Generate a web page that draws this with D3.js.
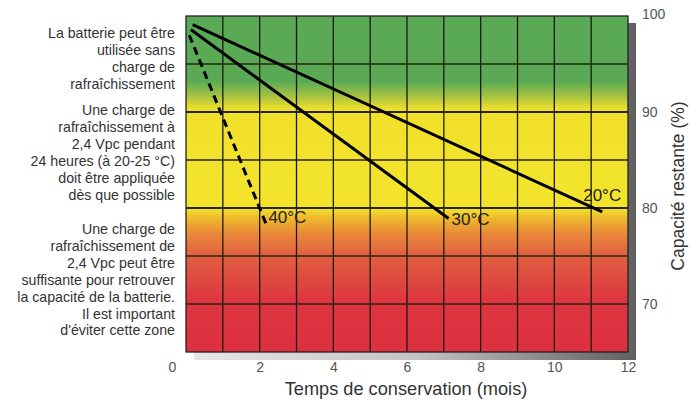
<!DOCTYPE html>
<html>
<head>
<meta charset="utf-8">
<script src="https://cdn.jsdelivr.net/npm/d3@7"></script>
<style>
  body { margin: 0; background: #fff; }
  svg text { font-family: "Liberation Sans", Arial, sans-serif; }
</style>
</head>
<body>
<div class="Graph"></div>
<script>
// months on the x axis, capacity (%) on the right axis
var monthTicks = [0, 2, 4, 6, 8, 10, 12];
var capTicks = [70, 80, 90, 100];
var gridMonths = d3.range(1, 12);
var gridCaps = [95, 90, 85, 80, 75, 70];

var seriesNames = ["20°C", "30°C", "40°C"];
var seriesX = [[0.18, 11.3], [0.13, 7.13], [0.09, 2.21]];
var seriesY = [[99.1, 79.6], [98.6, 78.9], [98.0, 78.0]];
var seriesDashed = [false, false, true];

var zoneText = [
    ["La batterie peut être", "utilisée sans", "charge de", "rafraîchissement"],
    ["Une charge de", "rafraîchissement à", "2,4 Vpc pendant", "24 heures (à 20-25 °C)", "doit être appliquée", "dès que possible"],
    ["Une charge de", "rafraîchissement de", "2,4 Vpc peut être", "suffisante pour retrouver", "la capacité de la batterie.", "Il est important", "d'éviter cette zone"]
];
var zoneTop = [33, 110, 229];

var W = 698, H = 403;
var margin = { top: 16, right: 70, bottom: 51, left: 186 };
var width = 628 - margin.left,
    height = 352 - margin.top;

var svg = d3.select(".Graph")
    .append("svg")
    .attr("width", W)
    .attr("height", H);

var defs = svg.append("defs");

var bg = defs.append("linearGradient")
    .attr("id", "bg")
    .attr("x1", 0).attr("y1", 0).attr("x2", 0).attr("y2", 1);

var x = d3.scaleLinear().domain([0, 12]).range([0, width]);
var y = d3.scaleLinear().domain([65, 100]).range([height, 0]);

// colour zones, offsets taken from capacity values
var stops = [
    [100, "#5aaa55"], [93.2, "#5aaa55"], [91.6, "#a8c440"], [90.3, "#f0e02b"],
    [80, "#f3e42b"], [78.8, "#eeb42e"], [77.2, "#e9863a"], [75, "#e05f40"],
    [70.3, "#de3540"], [65, "#de3040"]
];
bg.selectAll("stop")
    .data(stops)
    .enter()
    .append("stop")
    .attr("offset", d => y(d[0]) / height)
    .attr("stop-color", d => d[1]);

var sh = defs.append("linearGradient")
    .attr("id", "shadow")
    .attr("x1", 0).attr("y1", 0).attr("x2", 1).attr("y2", 0);
sh.append("stop").attr("offset", 0).attr("stop-color", "#e6e6e6");
sh.append("stop").attr("offset", 0.5).attr("stop-color", "#c4c4c4");
sh.append("stop").attr("offset", 1).attr("stop-color", "#606060");

var g = svg.append("g")
    .attr("transform", "translate(" + margin.left + "," + margin.top + ")");

// drop shadow
g.append("rect")
    .attr("x", 8).attr("y", 7)
    .attr("width", width).attr("height", height + 1)
    .attr("fill", "url(#shadow)");

g.append("rect")
    .attr("width", width).attr("height", height)
    .attr("fill", "url(#bg)");

//==========================================//
g.selectAll(".vgrid")
    .data(gridMonths)
    .enter()
    .append("line")
    .attr("class", "vgrid")
    .attr("x1", d => x(d)).attr("x2", d => x(d))
    .attr("y1", 0).attr("y2", height)
    .attr("stroke", "#1c1a10")
    .attr("stroke-width", 1.3);

g.selectAll(".hgrid")
    .data(gridCaps)
    .enter()
    .append("line")
    .attr("class", "hgrid")
    .attr("x1", 0).attr("x2", width)
    .attr("y1", d => y(d)).attr("y2", d => y(d))
    .attr("stroke", "#2a2510")
    .attr("stroke-width", d => (d == 90 || d == 80) ? 1.8 : 1.3);

g.append("rect")
    .attr("width", width).attr("height", height)
    .attr("fill", "none")
    .attr("stroke", "#222")
    .attr("stroke-width", 1.3);
//==========================================//

var line = d3.line()
    .x(d => x(d[0]))
    .y(d => y(d[1]));

var labelDx = [-19, 3, 1];
var labelDy = [-11, 6, -4];

seriesNames.forEach(function (name, i) {
    var pts = seriesX[i].map((v, j) => [v, seriesY[i][j]]);
    g.append("path")
        .datum(pts)
        .attr("d", line)
        .attr("fill", "none")
        .attr("stroke", "#000")
        .attr("stroke-width", 3)
        .attr("stroke-dasharray", seriesDashed[i] ? "8,5" : null);
    var end = pts[pts.length - 1];
    g.append("text")
        .attr("x", x(end[0]) + labelDx[i])
        .attr("y", y(end[1]) + labelDy[i])
        .attr("font-size", "17px")
        .attr("fill", "#222")
        .text(name);
});

// bottom axis
var xAxis = g.append("g")
    .attr("transform", "translate(0," + height + ")")
    .call(d3.axisBottom(x).tickValues(monthTicks).tickSize(0).tickPadding(10));
xAxis.select(".domain").remove();
xAxis.selectAll("text")
    .attr("font-size", "14px")
    .attr("fill", "#555")
    .attr("dx", d => d == 0 ? -14 : 0);

// right axis
var yAxis = g.append("g")
    .attr("transform", "translate(" + width + ",0)")
    .call(d3.axisRight(y).tickValues(capTicks).tickSize(0).tickPadding(14));
yAxis.select(".domain").remove();
yAxis.selectAll("text")
    .attr("font-size", "14px")
    .attr("fill", "#555")
    .attr("dy", d => d == 100 ? "0.2em" : "0.32em");

svg.append("text")
    .attr("x", 406)
    .attr("y", 395)
    .attr("text-anchor", "middle")
    .attr("font-size", "18.2px")
    .attr("fill", "#333")
    .text("Temps de conservation (mois)");

svg.append("text")
    .attr("transform", "translate(684,186) rotate(-90)")
    .attr("text-anchor", "middle")
    .attr("font-size", "17.5px")
    .attr("fill", "#333")
    .text("Capacité restante (%)");

// zone notes on the left
zoneText.forEach(function (lines, k) {
    var t = svg.append("text")
        .attr("text-anchor", "end")
        .attr("font-size", "14.2px")
        .attr("fill", "#333");
    lines.forEach(function (s, j) {
        t.append("tspan")
            .attr("x", 175)
            .attr("y", zoneTop[k] + j * 16.9 + 5)
            .text(s);
    });
});
</script>
</body>
</html>
